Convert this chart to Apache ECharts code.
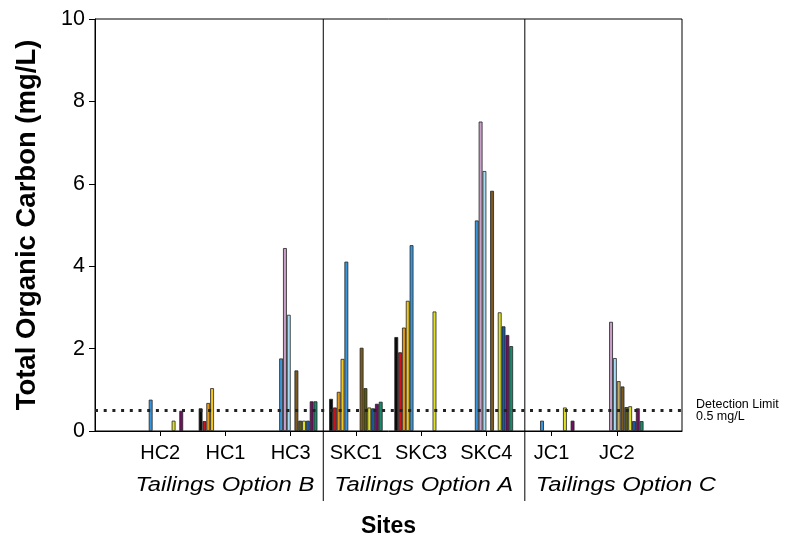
<!DOCTYPE html>
<html><head><meta charset="utf-8">
<script src="https://cdn.jsdelivr.net/npm/echarts@6/dist/echarts.min.js"></script>
<style>html,body{margin:0;padding:0;background:#fff}#c{width:785px;height:544px}</style>
</head><body><div id="c"></div>
<script>
// ---- data ----
const sites = ['HC2', 'HC1', 'HC3', 'SKC1', 'SKC3', 'SKC4', 'JC1', 'JC2'];
const groupLabels = ['Tailings Option B', 'Tailings Option A', 'Tailings Option C'];
const yTicks = [0, 2, 4, 6, 8, 10];
const detectionLimit = 0.5;
const detectionText = ['Detection Limit', '0.5 mg/L'];

const s01 = [null, 0.55, null, 0.78, 2.28, null, null, null];
const s02 = [null, 0.24, null, 0.57, 1.91, null, null, null];
const s03 = [null, 0.68, null, 0.95, 2.51, null, null, null];
const s04 = [null, 1.04, null, 1.75, 3.16, null, null, null];
const s05 = [0.76, null, 1.76, 4.11, 4.51, 5.11, 0.25, null];
const s06 = [null, null, 4.44, null, null, 7.51, null, 2.65];
const s07 = [null, null, 2.82, null, null, 6.31, null, 1.77];
const s08 = [null, null, null, null, null, null, null, 1.21];
const s09 = [null, null, 1.47, 2.02, null, 5.83, null, 1.08];
const s10 = [null, null, 0.25, 1.04, null, null, null, 0.58];
const s11 = [0.25, null, 0.25, 0.57, 2.90, 2.88, 0.57, 0.60];
const s12 = [null, null, 0.25, 0.55, null, 2.54, null, 0.24];
const s13 = [0.49, null, 0.72, 0.66, null, 2.33, 0.25, 0.55];
const s14 = [null, null, 0.72, 0.71, null, 2.06, null, 0.24];

const seriesValues = [s01, s02, s03, s04, s05, s06, s07, s08, s09, s10, s11, s12, s13, s14];
const seriesNames = ['Sample 1', 'Sample 2', 'Sample 3', 'Sample 4', 'Sample 5', 'Sample 6', 'Sample 7',
  'Sample 8', 'Sample 9', 'Sample 10', 'Sample 11', 'Sample 12', 'Sample 13', 'Sample 14'];

// ---- style ----
const colors = ['#0a0a0a', '#c8141e', '#e09a1a', '#f2c81e', '#3a96d8', '#c8a0c8', '#a8dcf4',
  '#c4ac66', '#7a5a20', '#585818', '#e0e028', '#1a5aa0', '#701060', '#1a8a6a'];
const FONT = '"Liberation Sans", Arial, Helvetica, sans-serif';

const chart = echarts.init(document.getElementById('c'), null, { renderer: 'canvas' });
const axisCats = ['', ...sites, ''];
const pad = a => [null, ...a, null];

const series = seriesValues.map((vals, i) => {
  const s = {
    name: seriesNames[i],
    type: 'bar',
    data: pad(vals),
    barGap: '0%',
    barCategoryGap: '18%',
    itemStyle: { color: colors[i], borderColor: '#222', borderWidth: 0.8 },
    emphasis: { disabled: true },
    animation: false
  };
  if (i === 0) {
    s.markLine = {
      silent: true,
      symbol: ['none', 'none'],
      animation: false,
      data: [{ yAxis: detectionLimit }],
      lineStyle: { color: '#222', width: 2.8, type: [3, 5.7] },
      label: {
        show: true,
        position: 'end',
        distance: 14,
        formatter: detectionText.join('\n'),
        color: '#000',
        fontFamily: FONT,
        fontSize: 12.5,
        lineHeight: 12,
        align: 'left',
        padding: [0, 0, 8, 0]
      }
    };
  }
  return s;
});

chart.setOption({
  backgroundColor: '#fff',
  animation: false,
  grid: { left: 95, right: 103, top: 19, bottom: 113, show: true, borderColor: '#000', borderWidth: 1, containLabel: false },
  xAxis: {
    type: 'category',
    data: axisCats,
    boundaryGap: false,
    name: 'Sites',
    nameLocation: 'middle',
    nameGap: 84,
    nameTextStyle: { fontFamily: FONT, fontSize: 23, fontWeight: 'bold', color: '#000' },
    axisLine: { show: true, lineStyle: { color: '#000', width: 1 } },
    axisTick: { show: true, length: 5, lineStyle: { color: '#000' }, interval: (idx, val) => val !== '' },
    axisLabel: { fontFamily: FONT, fontSize: 20, color: '#000', margin: 12, interval: 0 },
    splitLine: { show: false }
  },
  yAxis: {
    type: 'value',
    min: yTicks[0],
    max: yTicks[yTicks.length - 1],
    interval: yTicks[1] - yTicks[0],
    name: 'Total Organic Carbon (mg/L)',
    nameLocation: 'middle',
    nameGap: 54,
    nameTextStyle: { fontFamily: FONT, fontSize: 27.5, fontWeight: 'bold', color: '#000' },
    axisLine: { show: true, lineStyle: { color: '#000', width: 1 } },
    axisTick: { show: true, length: 6, lineStyle: { color: '#000' } },
    axisLabel: { fontFamily: FONT, fontSize: 21.5, color: '#000', margin: 10 },
    splitLine: { show: false }
  },
  series: series
});

// separators and group labels positioned through the axis scales
const xp = i => chart.convertToPixel({ xAxisIndex: 0 }, i);
const yTop = chart.convertToPixel({ yAxisIndex: 0 }, yTicks[yTicks.length - 1]);
const yBottom = 501;
const sep1 = xp(3) + 0.5 * (xp(4) - xp(3));
const sep2 = xp(6) + 0.59 * (xp(7) - xp(6));
const labelY = 485;
const txt = (x, text, align) => ({
  type: 'text', x: x, y: labelY, scaleX: 1.16, silent: true,
  style: { text: text, fontFamily: FONT, fontSize: 20.5, fontStyle: 'italic', fill: '#000', align: align, verticalAlign: 'middle' }
});
chart.setOption({
  graphic: [
    { type: 'line', silent: true, shape: { x1: sep1, y1: yTop, x2: sep1, y2: yBottom }, style: { stroke: '#000', lineWidth: 1 } },
    { type: 'line', silent: true, shape: { x1: sep2, y1: yTop, x2: sep2, y2: yBottom }, style: { stroke: '#000', lineWidth: 1 } },
    txt(sep1 - 9, groupLabels[0], 'right'),
    txt(sep1 + 11, groupLabels[1], 'left'),
    txt(sep2 + 11, groupLabels[2], 'left')
  ]
});
</script>
</body></html>
